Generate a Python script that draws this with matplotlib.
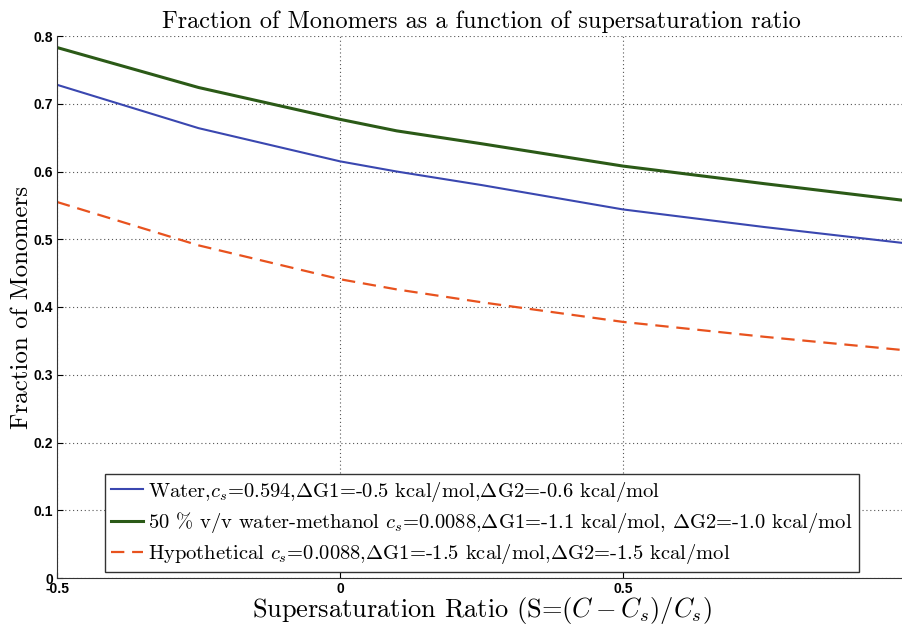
import matplotlib
matplotlib.use("Agg")
from matplotlib import pyplot as plt

# supersaturation ratio values and monomer fractions
ratio = [-0.5, -0.25, 0.0, 0.1, 0.25, 0.5, 0.75, 1.0]
water = [0.728, 0.664, 0.615, 0.600, 0.580, 0.544, 0.518, 0.494]
water_methanol = [0.783, 0.724, 0.677, 0.660, 0.641, 0.608, 0.582, 0.557]
hypothetical = [0.555, 0.491, 0.441, 0.426, 0.407, 0.378, 0.356, 0.336]

labels = [
    r"Water,$c_s$=0.594,$\Delta$G1=-0.5 kcal/mol,$\Delta$G2=-0.6 kcal/mol",
    r"50 % v/v water-methanol $c_s$=0.0088,$\Delta$G1=-1.1 kcal/mol, $\Delta$G2=-1.0 kcal/mol",
    r"Hypothetical $c_s$=0.0088,$\Delta$G1=-1.5 kcal/mol,$\Delta$G2=-1.5 kcal/mol",
]
x_ticks = [-0.5, 0, 0.5]
x_tick_labels = ["-0.5", "0", "0.5"]
y_ticks = [0, 0.1, 0.2, 0.3, 0.4, 0.5, 0.6, 0.7, 0.8]
y_tick_labels = ["0", "0.1", "0.2", "0.3", "0.4", "0.5", "0.6", "0.7", "0.8"]

plt.rcParams["mathtext.fontset"] = "cm"
plt.rcParams["axes.unicode_minus"] = False
serif = "cmr10"

fig = plt.figure(figsize=(9.02, 6.25), dpi=100)
ax = fig.add_axes([57 / 902, 1 - 578 / 625, 849 / 902, 542 / 625])

ax.plot(ratio, water, color="#3a47b0", lw=1.5, label=labels[0])
ax.plot(ratio, water_methanol, color="#2b5a17", lw=2.2, label=labels[1])
ax.plot(ratio, hypothetical, color="#e8521e", lw=1.6, ls=(0, (6, 3.5)), label=labels[2])

ax.set_xlim(-0.5, 1.0)
ax.set_ylim(0, 0.8)
ax.set_xticks(x_ticks)
ax.set_xticklabels(x_tick_labels, fontweight="bold", family="Liberation Sans", fontsize=10)
ax.set_yticks(y_ticks)
ax.set_yticklabels(y_tick_labels, fontweight="bold", family="Liberation Sans", fontsize=10)
ax.tick_params(direction="in", length=4, pad=3)
ax.grid(True, ls=(0, (1, 2.5)), color="#555555", lw=0.8)

ax.spines["top"].set_visible(False)
ax.spines["right"].set_visible(False)
ax.spines["left"].set_color("#333333")
ax.spines["bottom"].set_color("#333333")

ax.set_title("Fraction of Monomers as a function of supersaturation ratio",
             family=serif, fontsize=17.5, pad=6)
ax.set_ylabel("Fraction of Monomers", family=serif, fontsize=18, labelpad=0)
ax.set_xlabel(r"Supersaturation Ratio (S=$(C - C_s)/C_s$)", family=serif, fontsize=19)
ax.xaxis.set_label_coords(0.5, -0.031)

leg = ax.legend(loc="lower left", bbox_to_anchor=(105 / 902, 1 - 572 / 625),
                bbox_transform=fig.transFigure, borderaxespad=0,
                prop={"family": serif, "size": 14.8}, fancybox=False,
                edgecolor="#333333", framealpha=1, handlelength=1.55,
                handletextpad=0.25, labelspacing=0.32, borderpad=0.3)
leg.get_frame().set_linewidth(1.0)

fig.savefig("out.png", dpi=100)
